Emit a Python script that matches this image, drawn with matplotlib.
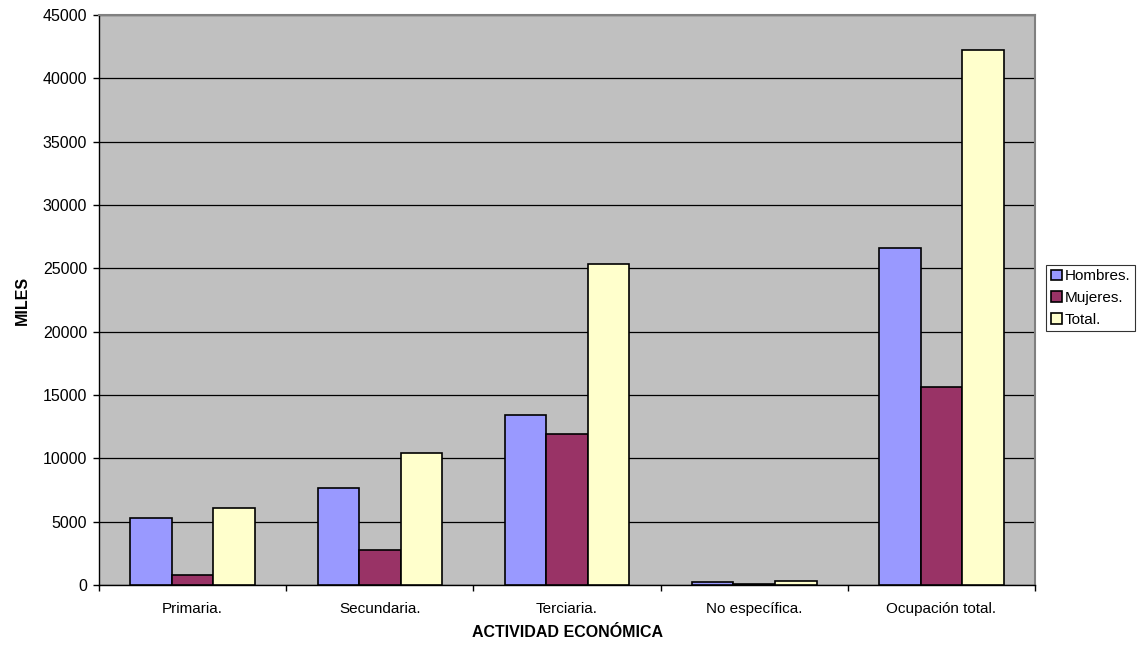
import numpy as np
import matplotlib
matplotlib.use("Agg")
import matplotlib.pyplot as plt

plt.rcParams['font.family'] = ['Liberation Sans', 'DejaVu Sans']

categorias = ["Primaria.", "Secundaria.", "Terciaria.", "No específica.", "Ocupación total."]
hombres = [5290, 7640, 13430, 210, 26620]
mujeres = [760, 2790, 11930, 110, 15640]
total = [6050, 10430, 25360, 320, 42260]

series = [("Hombres.", hombres, "#9999FF"),
          ("Mujeres.", mujeres, "#993366"),
          ("Total.", total, "#FFFFCC")]

fig = plt.figure(figsize=(11.45, 6.46), dpi=100)
ax = fig.add_axes([0.0865, 0.0944, 0.8175, 0.8824])
ax.set_facecolor("#C0C0C0")

x = np.arange(len(categorias))
w = 0.222
for i, (nombre, vals, color) in enumerate(series):
    ax.bar(x + (i - 1) * w, vals, width=w, color=color, edgecolor="black",
           linewidth=1.2, label=nombre, zorder=3)

ax.set_xlim(-0.5, len(categorias) - 0.5)
ax.set_ylim(0, 45000)
ax.set_yticks(np.arange(0, 45001, 5000))
ax.yaxis.grid(True, color="black", linewidth=0.9, zorder=1)
ax.set_axisbelow(True)

ax.set_xticks(x)
ax.set_xticklabels(categorias, fontsize=11)
ax.tick_params(axis="x", length=0, pad=12.5)
ax.set_xticks(np.arange(-0.5, len(categorias)), minor=True)
ax.tick_params(axis="x", which="minor", length=4, width=1, direction="out")
ax.tick_params(axis="y", labelsize=11.5, length=4, width=1, direction="out", pad=4.5)

for side in ["top", "right"]:
    ax.spines[side].set_color("#808080")
    ax.spines[side].set_linewidth(1.5)
for side in ["left", "bottom"]:
    ax.spines[side].set_color("black")
    ax.spines[side].set_linewidth(1)

ax.set_xlabel("ACTIVIDAD ECONÓMICA", fontsize=11.5, fontweight="bold", labelpad=6)
ax.set_ylabel("MILES", fontsize=11.5, fontweight="bold", labelpad=9)

leg = fig.legend(loc="upper left", bbox_to_anchor=(0.9135, 0.59), fontsize=11,
                 frameon=True, fancybox=False, edgecolor="black",
                 handlelength=0.75, handleheight=0.7, handletextpad=0.2,
                 borderpad=0.3, labelspacing=0.5, borderaxespad=0)
leg.get_frame().set_linewidth(0.8)

fig.savefig("out.png", dpi=100)
